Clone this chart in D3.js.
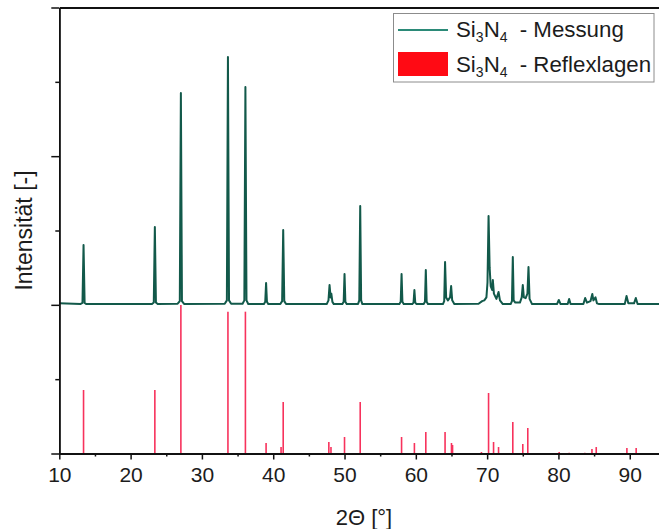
<!DOCTYPE html>
<html><head><meta charset="utf-8">
<script src="https://cdn.jsdelivr.net/npm/d3@7"></script>
<style>
body{margin:0;background:#fff}
svg{display:block}
text{font-family:"Liberation Sans",Arial,sans-serif;fill:#1c1c1c}
</style>
</head><body><svg id="c" width="659" height="529"></svg>
<script>
// ---- data ----
const xMajorTicks = [10,20,30,40,50,60,70,80,90];
const xMinorTicks = [15,25,35,45,55,65,75,85];
const yMajorTicks = [0,2000,4000,6000];
const yMinorTicks = [1000,3000,5000];
const xTitle = "2Θ [°]";
const yTitle = "Intensität [-]";
const legendNames = ["Messung","Reflexlagen"];

const measurement = [
 [10.0,2020],[13.0,2012],[13.25,2025],[13.4,2805],[13.55,2025],[13.8,2010],
 [23.0,2010],[23.25,2030],[23.4,3047],[23.55,2030],[23.8,2010],
 [26.6,2015],[26.9,2050],[27.05,4850],[27.2,2050],[27.5,2012],
 [33.2,2015],[33.5,2060],[33.65,5334],[33.8,2060],[34.1,2015],
 [35.7,2015],[35.95,2060],[36.1,4930],[36.25,2060],[36.5,2012],
 [38.7,2010],[38.88,2040],[39.0,2294],[39.12,2040],[39.3,2010],
 [41.0,2012],[41.25,2050],[41.4,3007],[41.55,2050],[41.8,2010],
 [47.5,2010],[47.75,2060],[47.9,2267],[48.05,2100],[48.15,2150],[48.3,2040],[48.5,2010],
 [49.7,2010],[49.88,2040],[50.0,2415],[50.12,2040],[50.3,2010],
 [51.9,2012],[52.07,2060],[52.2,3330],[52.33,2060],[52.5,2010],
 [57.7,2010],[57.88,2040],[58.0,2415],[58.12,2040],[58.3,2010],
 [59.5,2010],[59.68,2030],[59.8,2200],[59.92,2030],[60.1,2010],
 [61.1,2010],[61.28,2040],[61.4,2469],[61.52,2040],[61.7,2010],
 [63.8,2010],[63.98,2050],[64.1,2576],[64.25,2100],[64.5,2060],[64.8,2100],[64.95,2253],[65.1,2060],[65.4,2010],
 [68.8,2015],[69.3,2050],[69.6,2060],[69.9,2100],[70.05,2300],[70.2,3195],[70.35,2500],[70.5,2250],[70.7,2200],[70.8,2334],[70.95,2150],[71.3,2080],[71.6,2173],[71.8,2060],[72.2,2010],
 [73.3,2010],[73.48,2050],[73.6,2644],[73.72,2060],[73.95,2030],[74.6,2030],[74.85,2100],[75.0,2267],[75.15,2100],[75.4,2090],[75.65,2150],[75.8,2509],[75.95,2080],[76.3,2010],
 [79.8,2010],[80.05,2065],[80.3,2010],
 [81.3,2010],[81.5,2078],[81.7,2010],
 [83.5,2010],[83.75,2092],[84.0,2030],[84.5,2050],[84.75,2146],[84.9,2060],[85.2,2100],[85.4,2020],[85.7,2010],
 [89.3,2010],[89.55,2119],[89.8,2020],[90.6,2020],[90.85,2092],[91.1,2010],[95.0,2010]
];

// reference reflex positions (2θ) and relative intensities
const reflexAngle     = [13.4,23.4,27.05,33.65,36.1,39.0,41.1,41.4,47.8,48.1,50.0,52.2,58.0,59.8,61.4,64.1,65.0,65.15,69.2,70.2,70.9,71.6,73.6,75.0,75.7,80.1,81.5,83.7,84.7,85.3,89.6,90.9];
const reflexIntensity = [854,854,1998,1908,1908,141,87,693,155,87,222,693,222,141,289,289,141,114,20,814,155,87,424,128,343,20,10,10,60,87,74,74];

// ---- drawing ----
const svg = d3.select("#c");
const x = d3.scaleLinear().domain([10,95]).range([59.3,665.4]);
const y = d3.scaleLinear().domain([0,6000]).range([453.5,7.5]);

const green = "#12594a", red = "#f7325c";

// reflex bars
svg.append("g").selectAll("line").data(reflexAngle).join("line")
  .attr("x1",d=>x(d)).attr("x2",d=>x(d))
  .attr("y1",y(0)).attr("y2",(d,i)=>y(reflexIntensity[i]))
  .attr("stroke",red).attr("stroke-width",1.6);

// measurement line
svg.append("path").datum(measurement)
  .attr("fill","none").attr("stroke",green).attr("stroke-width",2)
  .attr("stroke-linejoin","round")
  .attr("d",d3.line().x(d=>x(d[0])).y(d=>y(d[1])));

// axes
function styleAxis(g,w){
  g.selectAll("path.domain").attr("stroke","#111").attr("stroke-width",w);
  g.selectAll(".tick line").attr("stroke","#111").attr("stroke-width",1.5);
}
const gxMin = svg.append("g").attr("transform",`translate(0,${y(0)})`)
  .call(d3.axisBottom(x).tickValues(xMinorTicks).tickSize(3).tickSizeOuter(0).tickFormat(""));
styleAxis(gxMin,1.8);
const gx = svg.append("g").attr("transform",`translate(0,${y(0)})`)
  .call(d3.axisBottom(x).tickValues(xMajorTicks).tickSize(6).tickSizeOuter(0).tickPadding(8));
styleAxis(gx,1.8);
gx.selectAll("text").attr("font-size",21).attr("fill","#1c1c1c").attr("font-family",null);

const gyMin = svg.append("g").attr("transform",`translate(${x(10)},0)`)
  .call(d3.axisLeft(y).tickValues(yMinorTicks).tickSize(4).tickSizeOuter(0).tickFormat(""));
styleAxis(gyMin,1.6);
const gy = svg.append("g").attr("transform",`translate(${x(10)},0)`)
  .call(d3.axisLeft(y).tickValues(yMajorTicks).tickSize(8).tickSizeOuter(0).tickFormat(""));
styleAxis(gy,1.6);

// top frame
const gt = svg.append("g").attr("transform",`translate(0,${y(6000)})`)
  .call(d3.axisTop(x).tickValues([]).tickSizeOuter(0));
styleAxis(gt,2);

// titles
svg.append("text").attr("x",364).attr("y",525).attr("text-anchor","middle")
  .attr("font-size",22).text(xTitle);
svg.append("text").attr("transform",`translate(32,${(y(0)+y(6000))/2}) rotate(-90)`)
  .attr("text-anchor","middle").attr("font-size",23).text(yTitle);

// legend
const lg = svg.append("g");
lg.append("rect").attr("x",393.5).attr("y",13.5).attr("width",260.5).attr("height",68.5)
  .attr("fill","#fff").attr("stroke","#8c8c8c").attr("stroke-width",1);
lg.append("line").attr("x1",398).attr("x2",448).attr("y1",30).attr("y2",30)
  .attr("stroke","#2b8a78").attr("stroke-width",2);
lg.append("rect").attr("x",398).attr("y",52).attr("width",50).attr("height",24).attr("fill","#ff0a14");
[37,72].forEach((by,i)=>{
  const t = lg.append("text").attr("x",456).attr("y",by).attr("font-size",22.3);
  t.append("tspan").text("Si");
  t.append("tspan").attr("font-size",14).attr("dy",5).text("3");
  t.append("tspan").attr("dy",-5).text("N");
  t.append("tspan").attr("font-size",14).attr("dy",5).text("4");
  t.append("tspan").attr("dy",-5).attr("dx",6).text(" - "+legendNames[i]);
});
</script>
</body></html>
